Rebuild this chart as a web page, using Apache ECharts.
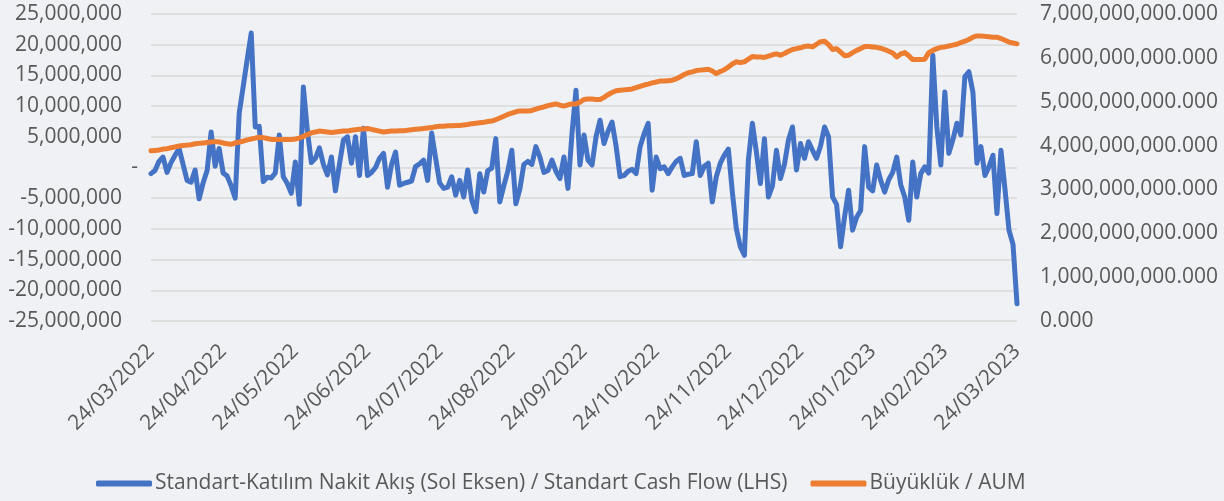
<!DOCTYPE html>
<html>
<head>
<meta charset="utf-8">
<script src="https://cdn.jsdelivr.net/npm/echarts@6/dist/echarts.min.js"></script>
<style>
  html, body { margin: 0; padding: 0; background: #eff1f4; }
  #main { width: 1224px; height: 501px; }
</style>
</head>
<body>
<div id="main"></div>
<script>
// month labels on the x axis, one every 18 slots
const monthLabels = ["24/03/2022", "24/04/2022", "24/05/2022", "24/06/2022", "24/07/2022", "24/08/2022",
  "24/09/2022", "24/10/2022", "24/11/2022", "24/12/2022", "24/01/2023", "24/02/2023", "24/03/2023"];
const slotsPerMonth = 18;

// Standart cash flow, millions (LHS)
const cashFlowMillion = [
  -1.0, -0.5, 1.0, 1.7, -0.8, 0.8, 2.0, 3.1, 0.5, -2.1,
  -2.4, -0.4, -5.1, -2.5, -0.5, 5.8, 0.2, 3.1, -0.9, -1.4,
  -3.0, -5.0, 8.8, 13.2, 17.6, 21.9, 6.6, 6.7, -2.3, -1.6,
  -1.7, -0.9, 5.3, -1.5, -2.6, -4.2, 0.9, -6.0, 13.1, 6.0,
  0.8, 1.5, 3.2, 0.5, -1.2, 1.7, -3.8, 0.5, 4.5, 5.0,
  0.7, 5.0, -1.3, 6.4, -1.3, -0.8, 0.0, 1.5, 2.3, -3.2,
  0.5, 2.5, -2.9, -2.6, -2.4, -2.2, 0.2, 0.6, 1.2, -2.1,
  5.6, 1.5, -2.5, -3.4, -3.2, -1.5, -4.5, -2.1, -4.8, -0.4,
  -5.3, -7.2, -1.0, -4.0, -0.5, -0.1, 4.7, -5.6, -3.0, -0.6,
  2.8, -5.9, -3.5, 0.5, 1.0, 0.5, 3.4, 1.7, -0.8, -0.5,
  1.2, -0.6, -1.8, 1.7, -3.4, 5.5, 12.6, 0.4, 5.3, 1.2,
  0.4, 5.0, 7.7, 3.9, 5.9, 7.4, 3.5, -1.5, -1.3, -0.6,
  -0.3, -1.0, 3.4, 5.5, 7.2, -3.7, 1.7, -0.2, 0.1, -1.0,
  0.1, 1.0, 1.5, -1.3, -1.1, -1.0, 4.2, -1.3, 0.2, 0.7,
  -5.6, -1.5, 0.7, 2.0, 3.0, -4.0, -10.0, -12.9, -14.3, 1.2,
  7.2, 2.5, -2.6, 4.7, -4.8, -3.0, 2.8, -1.8, 0.5, 4.5,
  6.6, -0.4, 3.9, 1.5, 4.2, 2.8, 1.5, 3.5, 6.6, 5.0,
  -4.8, -6.0, -12.9, -8.0, -3.7, -10.2, -8.1, -7.0, 3.4, -3.2,
  -3.8, 0.4, -2.1, -4.0, -2.0, -0.8, 1.7, -2.8, -4.8, -8.6,
  0.9, -4.8, -1.0, 0.1, -0.9, 18.3, 6.6, 0.4, 12.3, 2.3,
  4.5, 7.2, 5.3, 14.8, 15.6, 12.3, 0.7, 3.4, -1.3, 0.1,
  2.0, -7.5, 2.8, -3.5, -10.2, -12.5, -22.2
];

// AUM, billions (RHS)
const aumBillion = [
  3.88, 3.89, 3.90, 3.92, 3.93, 3.95, 3.97, 3.99, 4.00, 4.01,
  4.02, 4.04, 4.05, 4.06, 4.07, 4.08, 4.09, 4.08, 4.06, 4.04,
  4.03, 4.06, 4.08, 4.10, 4.13, 4.15, 4.17, 4.19, 4.18, 4.16,
  4.14, 4.14, 4.14, 4.14, 4.14, 4.14, 4.15, 4.17, 4.21, 4.25,
  4.29, 4.31, 4.33, 4.32, 4.31, 4.30, 4.31, 4.32, 4.33, 4.33,
  4.35, 4.36, 4.37, 4.38, 4.39, 4.37, 4.35, 4.33, 4.31, 4.32,
  4.33, 4.33, 4.34, 4.34, 4.35, 4.36, 4.37, 4.38, 4.39, 4.40,
  4.41, 4.43, 4.44, 4.44, 4.45, 4.45, 4.46, 4.46, 4.47, 4.48,
  4.50, 4.51, 4.52, 4.53, 4.55, 4.56, 4.59, 4.63, 4.67, 4.71,
  4.74, 4.77, 4.79, 4.79, 4.79, 4.80, 4.83, 4.86, 4.88, 4.91,
  4.93, 4.95, 4.92, 4.90, 4.93, 4.95, 4.95, 4.99, 5.05, 5.06,
  5.06, 5.05, 5.05, 5.10, 5.16, 5.21, 5.25, 5.26, 5.27, 5.28,
  5.29, 5.32, 5.35, 5.38, 5.40, 5.43, 5.45, 5.47, 5.47, 5.48,
  5.49, 5.52, 5.57, 5.62, 5.66, 5.68, 5.71, 5.72, 5.73, 5.74,
  5.70, 5.64, 5.69, 5.73, 5.79, 5.86, 5.91, 5.89, 5.91, 5.97,
  6.03, 6.02, 6.02, 6.01, 6.04, 6.07, 6.09, 6.06, 6.10, 6.15,
  6.19, 6.21, 6.23, 6.26, 6.27, 6.25, 6.31, 6.37, 6.38, 6.30,
  6.19, 6.21, 6.13, 6.05, 6.06, 6.12, 6.17, 6.21, 6.26, 6.26,
  6.25, 6.24, 6.22, 6.19, 6.15, 6.11, 6.02, 6.09, 6.12, 6.05,
  5.96, 5.96, 5.96, 5.97, 6.12, 6.17, 6.21, 6.24, 6.25, 6.27,
  6.29, 6.31, 6.35, 6.38, 6.42, 6.47, 6.50, 6.50, 6.49, 6.48,
  6.47, 6.47, 6.44, 6.40, 6.36, 6.34, 6.32
];

const seriesNames = ["Standart-Katılım Nakit Akış (Sol Eksen) / Standart Cash Flow (LHS)", "Büyüklük / AUM"];

const categories = cashFlowMillion.map((v, i) =>
  i % slotsPerMonth === 0 ? monthLabels[i / slotsPerMonth] : "s" + i);

const font = "'Open Sans', sans-serif";
const textColor = "#595959";

const chart = echarts.init(document.getElementById("main"));

const option = {
  backgroundColor: "#eff1f4",
  animation: false,
  textStyle: { fontFamily: font },
  grid: { left: 151, right: 207, top: 14, bottom: 180 },
  legend: {
    left: 91,
    top: 468,
    itemGap: 23,
    itemWidth: 56,
    itemHeight: 6,
    icon: "roundRect",
    textStyle: { fontSize: 21, color: textColor, fontFamily: font, padding: [0, 0, 0, -2] },
    data: seriesNames,
  },
  xAxis: {
    type: "category",
    data: categories,
    boundaryGap: false,
    axisLine: { show: false },
    axisTick: { show: false },
    axisLabel: {
      interval: slotsPerMonth - 1,
      rotate: 45,
      margin: 27,
      fontSize: 21,
      color: textColor,
      fontFamily: font,
    },
  },
  yAxis: [
    {
      type: "value",
      min: -25000000,
      max: 25000000,
      interval: 5000000,
      axisLine: { show: false },
      axisTick: { show: false },
      splitLine: { lineStyle: { color: "#d9d9d9", width: 1.5 } },
      axisLabel: {
        margin: 13,
        fontSize: 21,
        color: textColor,
        fontFamily: font,
        formatter: (v) => v === 0 ? "-" : "{n|" + v.toLocaleString("en-US") + "}{s|}",
        rich: {
          n: { fontSize: 21, color: textColor, fontFamily: font },
          s: { width: 16 },
        },
      },
    },
    {
      type: "value",
      min: 0,
      max: 7000000000,
      interval: 1000000000,
      axisLine: { show: false },
      axisTick: { show: false },
      splitLine: { show: false },
      axisLabel: {
        margin: 23,
        fontSize: 21,
        color: textColor,
        fontFamily: font,
        formatter: (v) => v.toLocaleString("en-US", { minimumFractionDigits: 3, maximumFractionDigits: 3 }),
      },
    },
  ],
  series: [
    {
      name: seriesNames[0],
      type: "line",
      yAxisIndex: 0,
      data: cashFlowMillion.map((v) => v * 1000000),
      showSymbol: false,
      color: "#4472c4",
      lineStyle: { width: 5, color: "#4472c4", join: "round", cap: "round" },
    },
    {
      name: seriesNames[1],
      type: "line",
      yAxisIndex: 1,
      data: aumBillion.map((v) => v * 1000000000),
      showSymbol: false,
      color: "#ed7d31",
      lineStyle: { width: 5, color: "#ed7d31", join: "round", cap: "round" },
    },
  ],
};

chart.setOption(option);
</script>
</body>
</html>
